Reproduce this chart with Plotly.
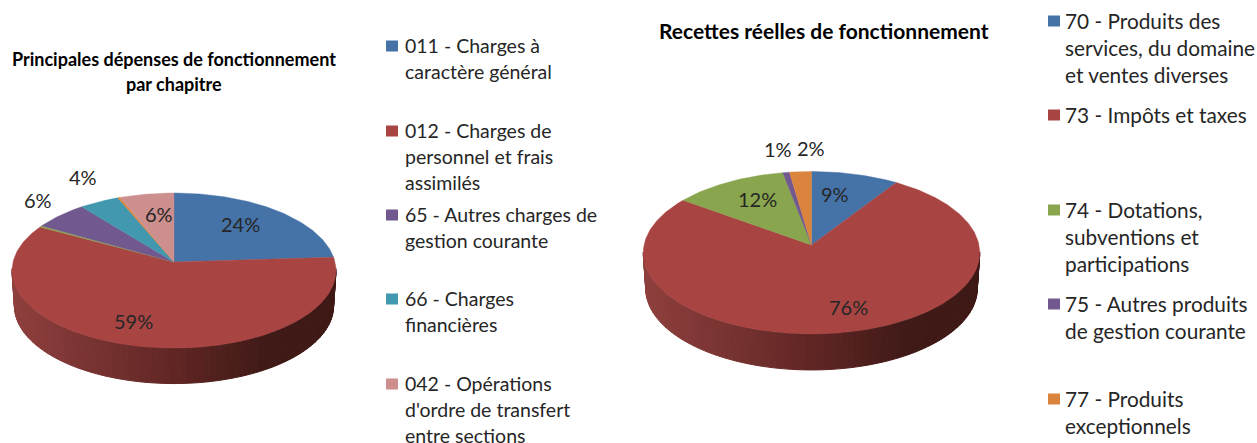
import math
import plotly.graph_objects as go

# ---- data ----
dep_names = ["011", "012", "013", "65", "66", "67", "042"]
dep_values = [24.0, 59.0, 0.3, 6.0, 4.4, 0.3, 6.0]
dep_colors = ["#4572A7", "#A84543", "#89A54E", "#71588F", "#4198AF", "#DB843D", "#CD8F8D"]
dep_labels = ["24%", "59%", "6%", "4%", "6%"]
dep_label_x = [240, 133, 38, 83, 159]
dep_label_y = [225, 322, 201, 178, 215]

rec_names = ["70", "73", "74", "75", "77"]
rec_values = [9.2, 75.8, 12.0, 0.7, 2.3]
rec_colors = ["#4572A7", "#A84543", "#89A54E", "#71588F", "#DB843D"]
rec_labels = ["9%", "76%", "12%", "1%", "2%"]
rec_label_x = [835, 848, 757, 778, 811]
rec_label_y = [195, 308, 200, 150, 149]

dep_legend = [
    ["011 - Charges à", "caractère général"],
    ["012 - Charges de", "personnel et frais", "assimilés"],
    ["65 - Autres charges de", "gestion courante"],
    ["66 - Charges", "financières"],
    ["042 - Opérations", "d'ordre de transfert", "entre sections"],
]
dep_legend_colors = ["#4572A7", "#A84543", "#71588F", "#4198AF", "#CD8F8D"]
dep_legend_y = [46, 131, 215, 299, 384]

rec_legend = [
    ["70 - Produits des", "services, du domaine", "et ventes diverses"],
    ["73 - Impôts et taxes"],
    ["74 - Dotations,", "subventions et", "participations"],
    ["75 - Autres produits", "de gestion courante"],
    ["77 - Produits", "exceptionnels"],
]
rec_legend_colors = ["#4572A7", "#A84543", "#89A54E", "#71588F", "#DB843D"]
rec_legend_y = [21, 115, 210, 304, 399]

TEXT = "#262626"
FONT = "Lato"
STOPS = [(0.0, (142, 63, 61)), (0.5, (96, 38, 36)), (0.78, (64, 26, 23)), (1.0, (62, 24, 20))]


def shade(t):
    for (a, ca), (b, cb) in zip(STOPS, STOPS[1:]):
        if t <= b:
            f = (t - a) / (b - a)
            return "rgb(%d,%d,%d)" % tuple(round(p + (q - p) * f) for p, q in zip(ca, cb))
    return "rgb(62,24,20)"


def project(theta, g, r=1.0):
    X, Y = r * math.sin(theta), -r * math.cos(theta)
    w = 1 - g["k"] * Y
    return g["cx"] + g["sx"] * X / w, g["cy"] + g["sy"] * Y / w


def add_pie(fig, values, colors, g):
    total = sum(values)
    edges = [0.0]
    for v in values:
        edges.append(edges[-1] + v / total * 2 * math.pi)
    # side wall: strips along the front rim
    start, end = math.radians(95), math.radians(265)
    n = 90
    for i in range(n):
        a = start + (end - start) * i / n
        b = start + (end - start) * (i + 1) / n
        xa, ya = project(a, g)
        xb, yb = project(b, g)
        xm = (xa + xb) / 2
        t = (xm - (g["cx"] - g["sx"])) / (2 * g["sx"])
        col = shade(t)
        fx = lambda x: g["cx"] + (x - g["cx"]) * g["taper"]
        fig.add_trace(go.Scatter(
            x=[xa, xb, fx(xb), fx(xa), xa],
            y=[ya, yb, yb + g["depth"], ya + g["depth"], ya],
            mode="lines", fill="toself", fillcolor=col,
            line=dict(width=1, color=col), hoverinfo="skip", showlegend=False))
    # top face
    for i, c in enumerate(colors):
        a0, a1 = edges[i], edges[i + 1]
        m = max(2, int((a1 - a0) / math.radians(1)))
        pts = [project(a0 + (a1 - a0) * j / m, g) for j in range(m + 1)]
        xs = [g["cx"]] + [p[0] for p in pts] + [g["cx"]]
        ys = [g["cy"]] + [p[1] for p in pts] + [g["cy"]]
        fig.add_trace(go.Scatter(
            x=xs, y=ys, mode="lines", fill="toself", fillcolor=c,
            line=dict(width=0.4, color=c), hoverinfo="skip", showlegend=False))


def text(fig, x, y, s, size, bold=False, anchor="center", color=TEXT):
    fig.add_annotation(x=x, y=y - 1, xref="x", yref="y", text=("<b>%s</b>" % s) if bold else s,
                       showarrow=False, xanchor=anchor, yanchor="middle",
                       font=dict(family=FONT, size=size, color=color))


def legend(fig, entries, colors, ys, x_box, x_text, step, size):
    for lines, c, y in zip(entries, colors, ys):
        fig.add_shape(type="rect", xref="x", yref="y", x0=x_box, x1=x_box + 12, y0=y - 5.5, y1=y + 5.5,
                      fillcolor=c, line=dict(width=0))
        for i, ln in enumerate(lines):
            text(fig, x_text - 2, y + i * step, ln, size, anchor="left")


fig = go.Figure()
add_pie(fig, dep_values, dep_colors,
        dict(cx=174, cy=262, sx=161, sy=76.6, k=0.11, depth=35.5, taper=0.985))
add_pie(fig, rec_values, rec_colors,
        dict(cx=811.5, cy=245, sx=167.5, sy=80.5, k=0.095, depth=36, taper=0.985))

for s, x, y in zip(dep_labels, dep_label_x, dep_label_y):
    text(fig, x, y, s, 20)
for s, x, y in zip(rec_labels, rec_label_x, rec_label_y):
    text(fig, x, y, s, 20)

text(fig, 174, 60, "Principales dépenses de fonctionnement", 18, bold=True, color="#000000")
text(fig, 174, 85, "par chapitre", 18, bold=True, color="#000000")
text(fig, 824, 31, "Recettes réelles de fonctionnement", 21, bold=True, color="#000000")

legend(fig, dep_legend, dep_legend_colors, dep_legend_y, 386, 405, 26, 19.5)
legend(fig, rec_legend, rec_legend_colors, rec_legend_y, 1048, 1065, 27.3, 20.8)

fig.update_layout(
    width=1257, height=443, margin=dict(l=0, r=0, t=0, b=0),
    paper_bgcolor="white", plot_bgcolor="white", showlegend=False,
    xaxis=dict(range=[0, 1257], visible=False, fixedrange=True),
    yaxis=dict(range=[443, 0], visible=False, fixedrange=True),
)
fig.write_html("out.html", config=dict(displayModeBar=False),
               post_script="document.body.style.margin='0';document.body.style.overflow='hidden';")
